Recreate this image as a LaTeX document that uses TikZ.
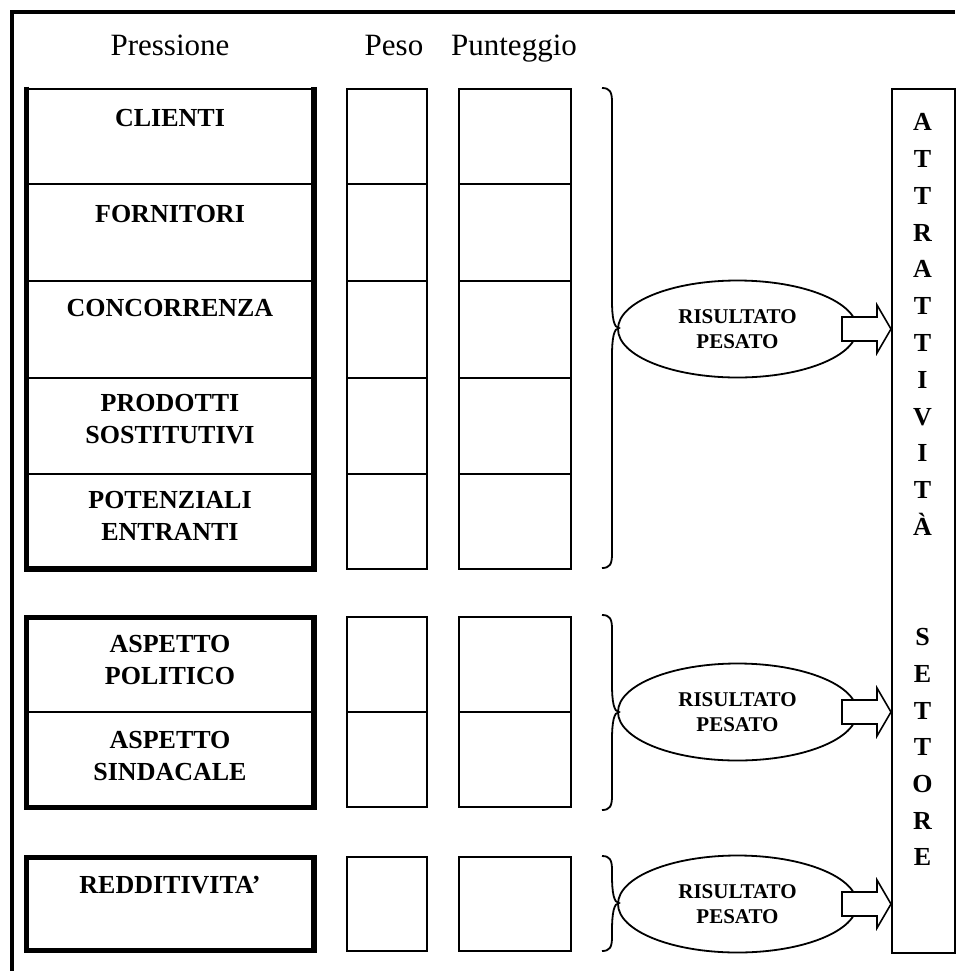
\documentclass[tikz,border=0pt]{standalone}
\usepackage{fontspec}
\setmainfont{Liberation Serif}
\usetikzlibrary{shapes.geometric}
% brace: #1 top y, #2 tip y, #3 bottom y
\newcommand\curlybrace[3]{%
  \draw[braceline] (602,#1) .. controls (610,#1) and (612,#1+4) .. (612,#1+14)
    -- (612,#2-28) .. controls (612,#2-10) and (614,#2) .. (619,#2)
    .. controls (614,#2) and (612,#2+10) .. (612,#2+28)
    -- (612,#3-14) .. controls (612,#3-4) and (610,#3) .. (602,#3);}
\begin{document}
\begin{tikzpicture}[x=0.5pt,y=-0.5pt,
  thinline/.style={line width=0.8pt},
  thickline/.style={line width=2.8pt},
  frameline/.style={line width=2pt},
  braceline/.style={line width=0.9pt},
  headtext/.style={font=\fontsize{15.5}{18}\selectfont, anchor=base, inner sep=0},
  rowlabel/.style={font=\fontsize{13}{16}\selectfont\bfseries, align=center, anchor=north, inner sep=0},
  colletter/.style={font=\fontsize{13}{16}\selectfont\bfseries, anchor=base, inner sep=0},
  result/.style={ellipse, draw, line width=0.9pt, minimum width=119.5pt, minimum height=48.5pt,
    inner sep=0, font=\fontsize{10.5}{12.5}\selectfont\bfseries, align=center},
  blockarrow/.style={line width=0.8pt, fill=white}]
\useasboundingbox (0,0) rectangle (955,971);

% outer frame (top and left)
\draw[frameline] (11.5,971) -- (11.5,11.5) -- (955,11.5);

% headers
\node[headtext] (hpress) at (170,55) {Pressione};
\node[headtext] (hpeso) at (394,55) {Peso};
\node[headtext] (hpunt) at (514,55) {Punteggio};

% first group of pressures
\draw[thinline] (26.5,89) -- (314,89);
\foreach \y in {184,281,378,474} \draw[thinline] (26.5,\y) -- (314,\y);
\draw[thickline] (26.5,86.5) -- (26.5,569) -- (314,569) -- (314,86.5);
% second group
\draw[thinline] (26.5,712) -- (314,712);
\draw[thickline] (26.5,617.5) rectangle (314,807.5);
% third group
\draw[thickline] (26.5,857.5) rectangle (314,950.5);

% weight and score cells
\foreach \t/\b in {89/184,184/281,281/378,378/474,474/569,617/712,712/807,857/951}{
  \draw[thinline] (347,\t) rectangle (427,\b);
  \draw[thinline] (459,\t) rectangle (571,\b);
}

% row labels
\node[rowlabel] (clienti) at (170,108.5) {CLIENTI};
\node[rowlabel] (fornitori) at (170,204.5) {FORNITORI};
\node[rowlabel] (concorrenza) at (170,298.5) {CONCORRENZA};
\node[rowlabel] (prodotti) at (170,393.5) {PRODOTTI\\SOSTITUTIVI};
\node[rowlabel] (potenziali) at (170,490.5) {POTENZIALI\\ENTRANTI};
\node[rowlabel] (politico) at (170,635) {ASPETTO\\POLITICO};
\node[rowlabel] (sindacale) at (170,730.5) {ASPETTO\\SINDACALE};
\node[rowlabel] (redditivita) at (170,875.5) {REDDITIVITA’};

% sector attractiveness column
\node[draw, thinline, inner sep=0, minimum width=31.5pt, minimum height=432pt,
  anchor=north west] (settore) at (891,88) {};
\foreach \ch [count=\i from 0] in {A,T,T,R,A,T,T,I,V,I,T,À}
  \node[colletter] (att\i) at (922.5,{130.6+36.8*\i}) {\ch};
\foreach \ch [count=\i from 0] in {S,E,T,T,O,R,E}
  \node[colletter] (set\i) at (922.5,{645.6+36.7*\i}) {\ch};

% weighted results
\node[result] (e1) at (737.5,329) {RISULTATO\\PESATO};
\node[result] (e2) at (737.5,712) {RISULTATO\\PESATO};
\node[result] (e3) at (737.5,904) {RISULTATO\\PESATO};

% braces grouping the rows
\curlybrace{88}{328}{568}
\curlybrace{615}{712}{810}
\curlybrace{856}{903}{951}

% block arrows into the column
\foreach \e in {e1,e2,e3}{
  \path (settore.west |- \e.center) coordinate (tip\e);
  \draw[blockarrow] (tip\e) ++(-49,-12) -- ++(35,0) -- ++(0,-12) -- ++(14,24)
    -- ++(-14,24) -- ++(0,-12) -- ++(-35,0) -- cycle;
}
\end{tikzpicture}
\end{document}
